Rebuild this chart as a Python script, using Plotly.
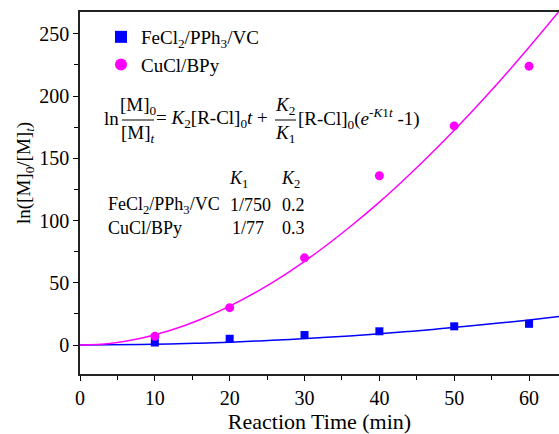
import plotly.graph_objects as go

# measured points
t_pts = [10, 20, 30, 40, 50, 60]
fe_pts = [2, 5, 8, 11, 15, 17]
cu_pts = [7, 30, 70, 136, 176, 224]

# fitted curves
t_fit = [0, 4, 8, 12, 16, 20, 24, 28, 32, 36, 40, 44, 48, 52, 56, 60, 64]
fe_fit = [0, 0.1, 0.4, 0.8, 1.5, 2.3, 3.3, 4.4, 5.8, 7.3, 9.1, 10.9, 13.0, 15.2, 17.6, 20.1, 22.9]
cu_fit = [0, 1.3, 5.2, 11.6, 20.3, 31.2, 44.1, 59.0, 75.9, 94.6, 114.8, 136.8, 160.3, 185.2, 211.5, 239.2, 268.0]

FONT = "Liberation Serif"
BLUE = "#0000ff"
MAG = "#ff00ff"

fig = go.Figure()
fig.add_trace(go.Scatter(x=t_fit, y=fe_fit, mode="lines", line=dict(color=BLUE, width=1.5),
                         line_shape="spline", showlegend=False, hoverinfo="skip"))
fig.add_trace(go.Scatter(x=t_fit, y=cu_fit, mode="lines", line=dict(color=MAG, width=1.5),
                         line_shape="spline", showlegend=False, hoverinfo="skip"))
fig.add_trace(go.Scatter(x=t_pts, y=fe_pts, mode="markers", name="FeCl<sub>2</sub>/PPh<sub>3</sub>/VC",
                         marker=dict(symbol="square", size=8, color=BLUE)))
fig.add_trace(go.Scatter(x=t_pts, y=cu_pts, mode="markers", name="CuCl/BPy",
                         marker=dict(symbol="circle", size=9, color=MAG)))

ann = []
def A(x, y, text, size=18, xanchor="left", angle=0):
    ann.append(dict(x=x, y=y, xref="paper", yref="paper", text=text, showarrow=False,
                    xanchor=xanchor, yanchor="middle", textangle=angle,
                    font=dict(family=FONT, size=size, color="#000")))

W, H = 479, 362
L, T = 80, 12
def px(xp): return (xp - L) / W
def py(yp): return 1 - (yp - T) / H

# equation
A(px(102), py(119), "ln", size=19)
A(px(138), py(106), "[M]<sub>0</sub>", size=19, xanchor="center")
A(px(138), py(134), "[M]<sub><i>t</i></sub>", size=19, xanchor="center")
A(px(154), py(119), "= <i>K</i><sub>2</sub>[R-Cl]<sub>0</sub><i>t</i> +", size=19)
A(px(285), py(106), "<i>K</i><sub>2</sub>", size=19, xanchor="center")
A(px(285), py(134), "<i>K</i><sub>1</sub>", size=19, xanchor="center")
A(px(296), py(119), "[R-Cl]<sub>0</sub>(<i>e</i><sup>-<i>K</i>1<i>t</i></sup> -1)", size=19)

# table
A(px(238), py(180), "<i>K</i><sub>1</sub>", xanchor="center")
A(px(290), py(180), "<i>K</i><sub>2</sub>", xanchor="center")
A(px(106), py(205), "FeCl<sub>2</sub>/PPh<sub>3</sub>/VC")
A(px(250), py(205), "1/750", xanchor="center")
A(px(293), py(205), "0.2", xanchor="center")
A(px(106), py(228), "CuCl/BPy")
A(px(248), py(228), "1/77", xanchor="center")
A(px(293), py(228), "0.3", xanchor="center")

# y-axis title
A((25 - L) / W, py(173), "ln([M]<sub>0</sub>/[M]<sub><i>t</i></sub>)", size=19,
  xanchor="center", angle=-90)

shapes = [
    dict(type="line", xref="paper", yref="paper", x0=px(122), x1=px(154), y0=py(120), y1=py(120),
         line=dict(color="#000", width=1)),
    dict(type="line", xref="paper", yref="paper", x0=px(275), x1=px(296), y0=py(120), y1=py(120),
         line=dict(color="#000", width=1)),
]

fig.update_layout(
    width=559, height=434,
    margin=dict(l=L, r=0, t=T, b=60),
    plot_bgcolor="white", paper_bgcolor="white",
    font=dict(family=FONT, size=19, color="#000"),
    annotations=ann, shapes=shapes,
    legend=dict(x=px(101), y=py(18), xanchor="left", yanchor="top", bgcolor="rgba(0,0,0,0)",
                font=dict(family=FONT, size=19), tracegroupgap=0, itemsizing="constant"),
    xaxis=dict(range=[0, 64], tickvals=[0, 10, 20, 30, 40, 50, 60], ticks="outside", ticklen=5,
               tickwidth=1.3, tickcolor="#000", showline=True, linecolor="#222", linewidth=1.5,
               mirror=True, showgrid=False, zeroline=False,
               minor=dict(tickvals=[5, 15, 25, 35, 45, 55], ticks="outside", ticklen=4, tickcolor="#000"),
               tickfont=dict(family=FONT, size=20),
               title=dict(text="Reaction Time (min)", font=dict(family=FONT, size=22), standoff=8)),
    yaxis=dict(range=[-23.3, 267.5], tickvals=[0, 50, 100, 150, 200, 250], ticks="outside", ticklen=5,
               tickwidth=1.3, tickcolor="#000", showline=True, linecolor="#222", linewidth=1.5,
               showgrid=False, zeroline=False,
               minor=dict(tickvals=[25, 75, 125, 175, 225], ticks="outside", ticklen=4, tickcolor="#000"),
               tickfont=dict(family=FONT, size=20)),
)

fig.write_html("out.html")
